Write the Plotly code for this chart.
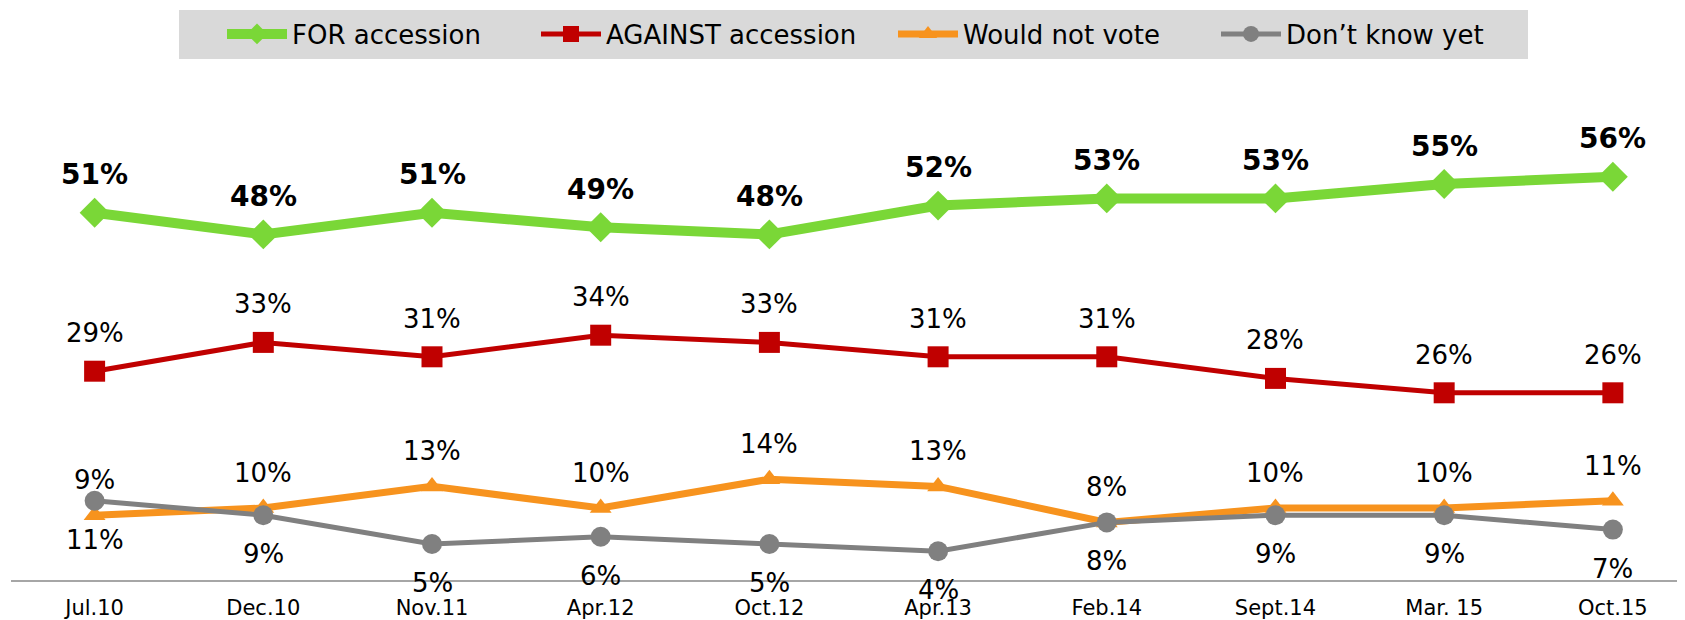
import plotly.graph_objects as go

periods = ['Jul.10', 'Dec.10', 'Nov.11', 'Apr.12', 'Oct.12', 'Apr.13', 'Feb.14', 'Sept.14', 'Mar. 15', 'Oct.15']

for_accession = [51, 48, 51, 49, 48, 52, 53, 53, 55, 56]
against_accession = [29, 33, 31, 34, 33, 31, 31, 28, 26, 26]
would_not_vote = [9, 10, 13, 10, 14, 13, 8, 10, 10, 11]
dont_know = [11, 9, 5, 6, 5, 4, 8, 9, 9, 7]

FONT = 'DejaVu Sans'
W, H = 1685, 620
# the page body adds an 8px offset, margins are set with that in mind
ML, MR, MT, MB = 3, 0, 68, 48
PW, PH = W - ML - MR, H - MT - MB
x_idx = list(range(len(periods)))


def px_x(px):
    # figure pixel -> paper x
    return (px - ML) / PW


def px_y(py):
    # figure pixel (from top) -> paper y
    return (H - MB - py) / PH


# name, values, colour, line width, symbol, marker size, label shift, bold, legend id, legend left px
series = [
    ('FOR accession', for_accession, '#7ad737', 10, 'diamond', 23, 38, True, 'legend', 214),
    ('AGAINST accession', against_accession, '#c00000', 5, 'square', 21, 38, False, 'legend2', 528),
    ('Would not vote', would_not_vote, '#f7931e', 7, 'triangle-up', 19, 35, False, 'legend3', 885),
    ("Don\u2019t know yet", dont_know, '#808080', 5, 'circle', 20, -39, False, 'legend4', 1208),
]

fig = go.Figure()
annotations = []
legends = {}

for name, vals, color, lw, sym, msize, shift, bold, leg, leg_x in series:
    fig.add_trace(go.Scatter(
        x=x_idx,
        y=vals,
        name=name,
        mode='lines+markers',
        line=dict(color=color, width=lw),
        marker=dict(symbol=sym, size=msize, color=color),
        cliponaxis=False,
        legend=leg,
    ))
    for xi, v in zip(x_idx, vals):
        annotations.append(dict(
            x=xi, y=v, xref='x', yref='y',
            text=f'<b>{v}%</b>' if bold else f'{v}%',
            showarrow=False, yanchor='middle', xanchor='center',
            yshift=shift,
            font=dict(family=FONT, size=28 if bold else 26, color='#000000'),
        ))
    legends[leg] = dict(
        orientation='h',
        x=px_x(leg_x), xanchor='left',
        y=px_y(26), yanchor='middle',
        bgcolor='rgba(0,0,0,0)',
        font=dict(family=FONT, size=26, color='#000000'),
        itemwidth=60,
    )

fig.update_layout(
    width=W,
    height=H,
    margin=dict(l=ML, r=MR, t=MT, b=MB, autoexpand=False),
    paper_bgcolor='white',
    plot_bgcolor='white',
    font=dict(family=FONT, color='#000000'),
    showlegend=True,
    annotations=annotations,
    xaxis=dict(
        range=[-0.4956, 9.475],
        tickmode='array',
        tickvals=x_idx,
        ticktext=periods,
        showgrid=False,
        zeroline=False,
        showline=True,
        linecolor='#a6a6a6',
        linewidth=2,
        ticks='',
        tickfont=dict(family=FONT, size=21, color='#000000'),
        ticklabelstandoff=8,
        automargin=False,
    ),
    yaxis=dict(
        range=[0, 70],
        visible=False,
    ),
    shapes=[dict(
        type='rect', xref='paper', yref='paper',
        x0=px_x(171), x1=px_x(1520),
        y0=px_y(51), y1=px_y(2),
        fillcolor='#d9d9d9', line=dict(width=0), layer='below',
    )],
    **legends,
)

fig.write_html('out.html')
